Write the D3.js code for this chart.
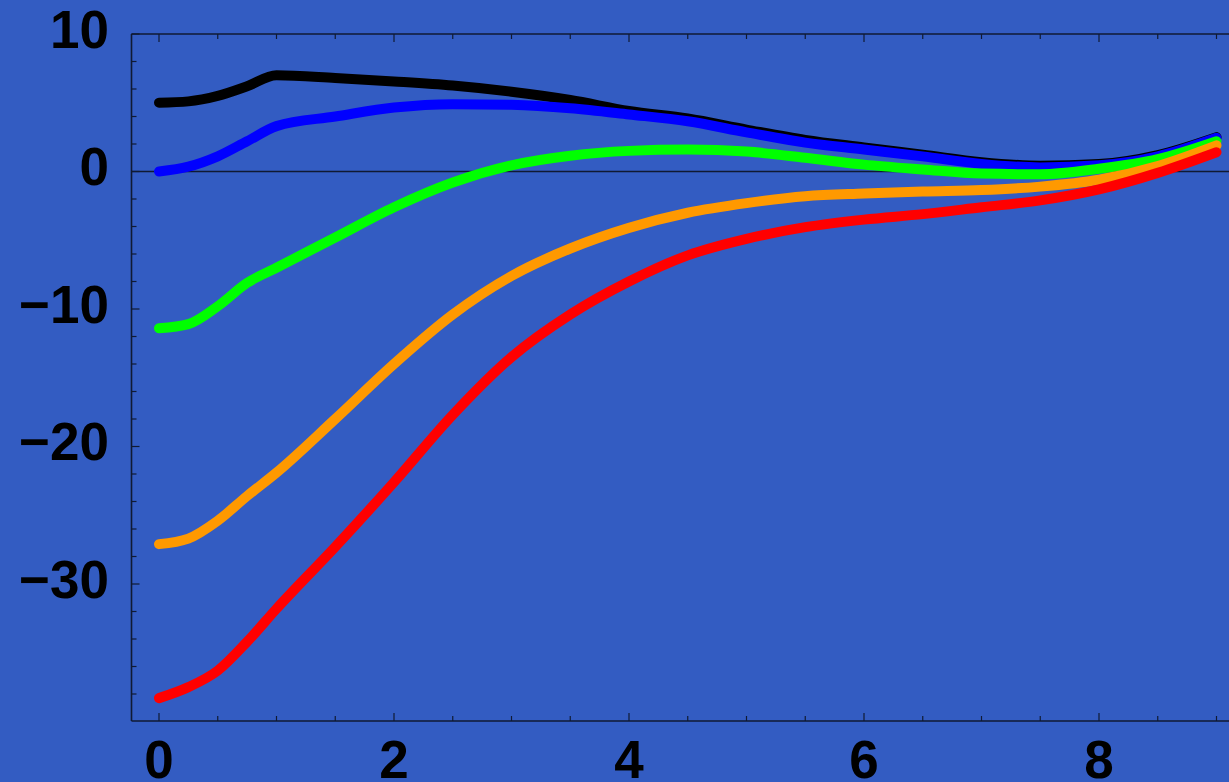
<!DOCTYPE html>
<html>
<head>
<meta charset="utf-8">
<script src="https://cdn.jsdelivr.net/npm/d3@7"></script>
<style>
  html, body { margin: 0; padding: 0; background: #335cc2; overflow: hidden; }
  svg text { font-family: "Liberation Sans", Arial, sans-serif; font-weight: bold; fill: #000; }
</style>
</head>
<body>
<script>
// sample positions along x
const xs = [0, 0.25, 0.5, 0.75, 1, 1.5, 2, 2.5, 3, 3.5, 4, 4.5, 5, 5.5, 6, 6.5, 7, 7.5, 8, 8.5, 9];

// one array per curve
const blackVals  = [5.0, 5.1, 5.5, 6.2, 7.0, 6.8, 6.55, 6.25, 5.8, 5.2, 4.4, 3.85, 3.05, 2.3, 1.75, 1.22, 0.68, 0.42, 0.55, 1.2, 2.5];
const blueVals   = [0.0, 0.35, 1.1, 2.2, 3.3, 4.0, 4.65, 4.9, 4.85, 4.6, 4.15, 3.65, 2.85, 2.1, 1.6, 1.1, 0.55, 0.3, 0.45, 1.1, 2.45];
const greenVals  = [-11.4, -11.1, -9.8, -8.1, -7.0, -4.8, -2.6, -0.8, 0.45, 1.15, 1.5, 1.6, 1.45, 1.0, 0.5, 0.15, -0.15, -0.2, 0.2, 0.9, 2.2];
const orangeVals = [-27.1, -26.7, -25.4, -23.6, -21.9, -18.0, -14.0, -10.4, -7.6, -5.6, -4.1, -3.0, -2.3, -1.8, -1.6, -1.45, -1.35, -1.1, -0.6, 0.4, 1.9];
const redVals    = [-38.3, -37.5, -36.3, -34.2, -31.8, -27.3, -22.6, -17.7, -13.5, -10.4, -8.0, -6.1, -4.9, -4.05, -3.5, -3.1, -2.6, -2.1, -1.3, -0.1, 1.4];

const seriesColors = ["#000000", "#0000ff", "#00ff00", "#ff9900", "#ff0000"];

const xTickLabels = [0, 2, 4, 6, 8];
const yTickLabels = [10, 0, -10, -20, -30];

const W = 1229, H = 782;
const svg = d3.select("body").append("svg")
  .attr("width", W).attr("height", H)
  .attr("viewBox", `0 0 ${W} ${H}`);

svg.append("rect").attr("width", W).attr("height", H).attr("fill", "#335cc2");

// plot box edges (right edge falls just outside the picture)
const boxL = 131.5, boxT = 34, boxB = 721, boxR = 1229;

const x = d3.scaleLinear().domain([0, 9]).range([159, 1216.5]);
const y = d3.scaleLinear().domain([10, 0]).range([34, 171.5]);

const axisColor = "#101a33";

// frame
svg.append("line").attr("x1", boxL).attr("x2", boxL).attr("y1", boxT).attr("y2", boxB)
  .attr("stroke", axisColor).attr("stroke-width", 1.6);
svg.append("line").attr("x1", boxL).attr("x2", boxR).attr("y1", boxT).attr("y2", boxT)
  .attr("stroke", axisColor).attr("stroke-width", 1.6);
svg.append("line").attr("x1", boxL).attr("x2", boxR).attr("y1", boxB).attr("y2", boxB)
  .attr("stroke", axisColor).attr("stroke-width", 1.6);

// zero line
svg.append("line").attr("x1", boxL).attr("x2", boxR).attr("y1", y(0)).attr("y2", y(0))
  .attr("stroke", axisColor).attr("stroke-width", 1.4);

// x ticks (bottom and top, pointing inward)
const xTicks = d3.range(0, 9.01, 0.5);
xTicks.forEach(t => {
  const major = Math.abs(t % 2) < 1e-9;
  const len = major ? 8 : 5;
  svg.append("line").attr("x1", x(t)).attr("x2", x(t)).attr("y1", boxB).attr("y2", boxB - len)
    .attr("stroke", axisColor).attr("stroke-width", 1.2);
  svg.append("line").attr("x1", x(t)).attr("x2", x(t)).attr("y1", boxT).attr("y2", boxT + len)
    .attr("stroke", axisColor).attr("stroke-width", 1.2);
});

// y ticks on left
const yTicks = d3.range(-38, 10.01, 2);
yTicks.forEach(t => {
  const major = Math.abs(t % 10) < 1e-9;
  const len = major ? 8 : 5;
  svg.append("line").attr("x1", boxL).attr("x2", boxL + len).attr("y1", y(t)).attr("y2", y(t))
    .attr("stroke", axisColor).attr("stroke-width", 1.2);
});

// tick labels
svg.selectAll("text.xl").data(xTickLabels).enter().append("text")
  .attr("class", "xl")
  .attr("x", d => x(d)).attr("y", 778)
  .attr("text-anchor", "middle")
  .attr("font-size", 53)
  .text(d => d);

svg.selectAll("text.yl").data(yTickLabels).enter().append("text")
  .attr("class", "yl")
  .attr("x", 109).attr("y", d => y(d) + 13.5)
  .attr("text-anchor", "end")
  .attr("font-size", 53)
  .text(d => d < 0 ? "\u2212" + Math.abs(d) : d);

// curves
const allSeries = [blackVals, blueVals, greenVals, orangeVals, redVals];
const line = d3.line()
  .x((d, i) => x(xs[i]))
  .y(d => y(d))
  .curve(d3.curveMonotoneX);

allSeries.forEach((vals, k) => {
  svg.append("path")
    .attr("d", line(vals))
    .attr("fill", "none")
    .attr("stroke", seriesColors[k])
    .attr("stroke-width", 10)
    .attr("stroke-linecap", "round")
    .attr("stroke-linejoin", "round");
});
</script>
</body>
</html>
